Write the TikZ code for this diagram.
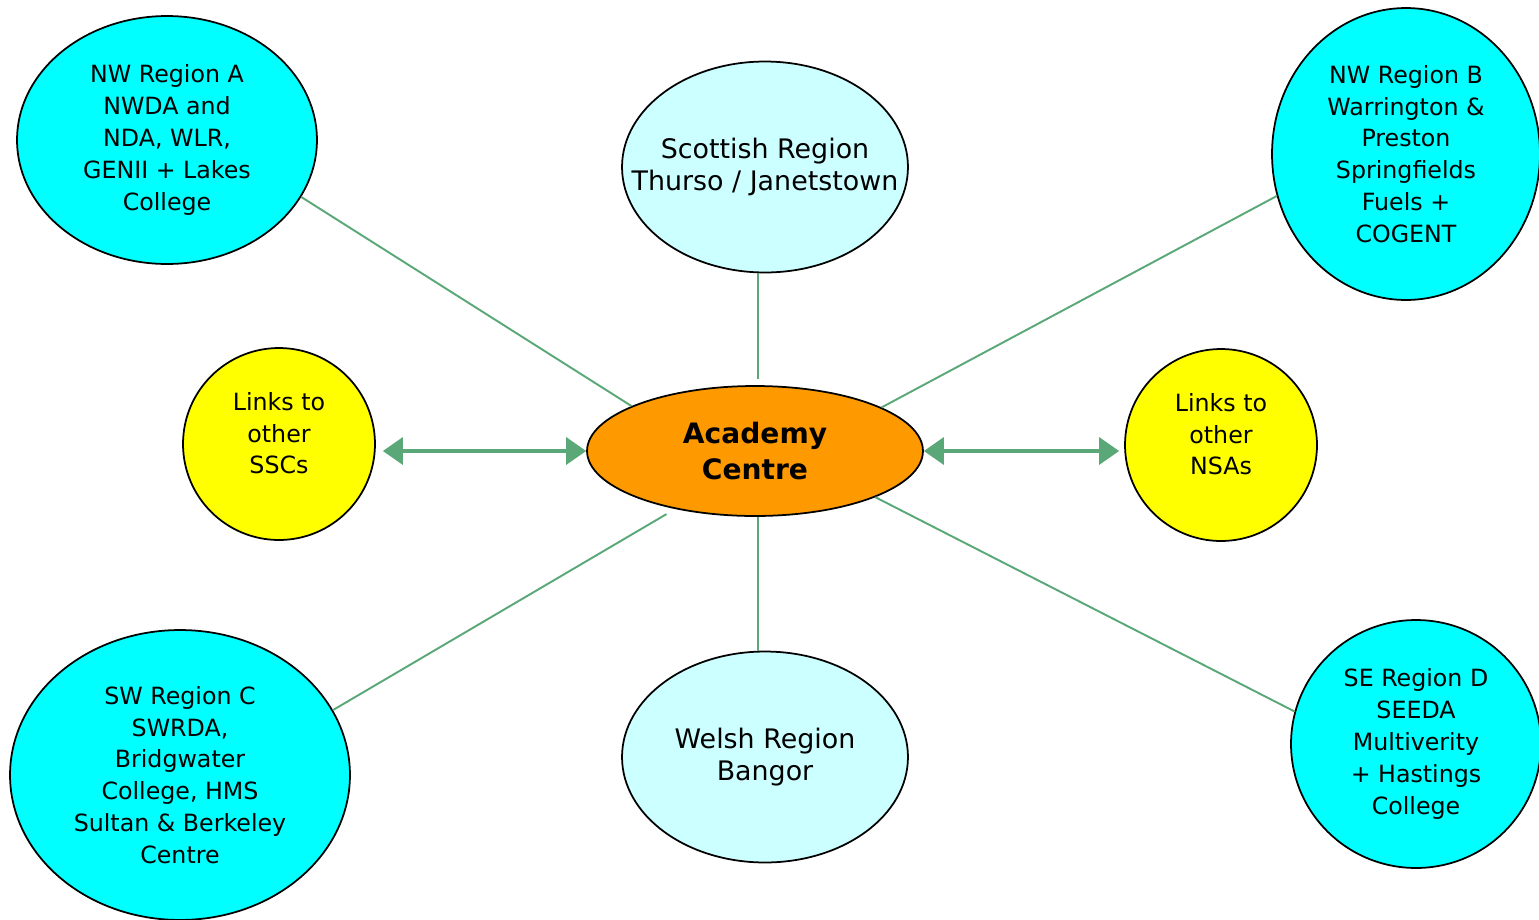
\documentclass[tikz,border=0pt]{standalone}
\usepackage{fontspec}
\setmainfont{DejaVu Sans}
\usetikzlibrary{shapes.geometric,arrows.meta}
\definecolor{spokegreen}{RGB}{90,168,120}
\definecolor{regcyan}{RGB}{0,255,255}
\definecolor{palecyan}{RGB}{204,255,255}
\definecolor{acadorange}{RGB}{255,153,0}
\definecolor{linkyellow}{RGB}{255,255,0}

\begin{document}
\begin{tikzpicture}[x=0.02cm,y=-0.02cm,
  bubble/.style={ellipse,draw=black,line width=1pt,inner sep=0pt,align=center,
    font=\fontsize{13.5}{18.1}\selectfont},
  region/.style={bubble,fill=regcyan},
  nation/.style={bubble,fill=palecyan,inner xsep=-1cm,minimum width=5.72cm,minimum height=4.22cm,
    font=\fontsize{15.3}{18.1}\selectfont},
  links/.style={bubble,fill=linkyellow,minimum width=3.84cm,minimum height=3.84cm,text depth=0.44cm},
  spoke/.style={spokegreen,line width=1.1pt},
  twoway/.style={spokegreen,line width=1.9pt,
    {Triangle[length=0.4cm,width=0.54cm]}-{Triangle[length=0.4cm,width=0.54cm]}}]
\useasboundingbox (0,0) rectangle (1539,920);
\node [bubble,fill=acadorange,minimum width=6.72cm,minimum height=2.6cm,
  font=\bfseries\fontsize{16}{21}\selectfont] (acad) at (755,451) {Academy\\Centre};
\node [nation] (scot) at (765,167) {Scottish Region\\Thurso / Janetstown};
\node [nation] (wel) at (765,757) {Welsh Region\\Bangor};
\node [region,minimum width=6cm,minimum height=4.96cm] (nwa) at (167,140)
  {NW Region A\\NWDA and\\NDA, WLR,\\GENII + Lakes\\College};
\node [region,minimum width=5.36cm,minimum height=5.84cm] (nwb) at (1406,154)
  {NW Region B\\Warrington \&\\Preston\\Springfields\\Fuels +\\COGENT};
\node [region,minimum width=6.8cm,minimum height=5.8cm] (swc) at (180,775)
  {SW Region C\\SWRDA,\\Bridgwater\\College, HMS\\Sultan \& Berkeley\\Centre};
\node [region,minimum width=5cm,minimum height=4.96cm] (sed) at (1416,744)
  {SE Region D\\SEEDA\\Multiverity\\+ Hastings\\College};
\node [links] (ssc) at (279,444) {Links to\\other\\SSCs};
\node [links] (nsa) at (1221,445) {Links to\\other\\NSAs};
\draw [spoke] (nwa.-23) -- (acad.160);
\draw [spoke, shorten >=0.12cm] (scot.-94) -- (scot.-94 |- acad.north);
\draw [spoke] (nwb.198) -- (acad.19);
\draw [spoke, shorten >=0.2cm] (swc.23) -- (acad.216);
\draw [spoke] (wel.94) -- (wel.94 |- acad.south);
\draw [spoke] (sed.165) -- (acad.-21);
\draw [twoway, shorten <=0.14cm] (ssc.east |- acad.west) -- (acad.west);
\draw [twoway, shorten >=0.1cm] (acad.east) -- (acad.east -| nsa.west);
\end{tikzpicture}
\end{document}
